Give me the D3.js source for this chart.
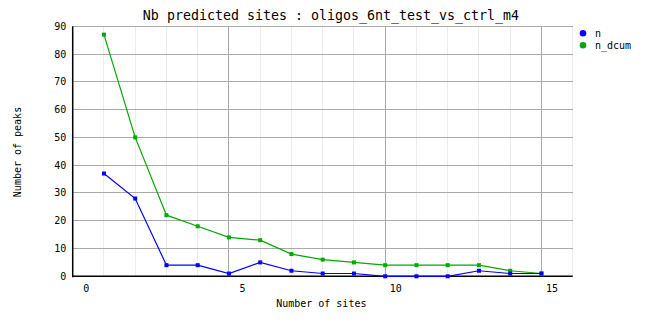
<!DOCTYPE html>
<html>
<head>
<meta charset="utf-8">
<script src="https://cdn.jsdelivr.net/npm/d3@7"></script>
<style>
  body { margin: 0; background: #fff; }
  text { font-family: "DejaVu Sans Mono", monospace; fill: #000; }
</style>
</head>
<body>
<div id="chart"></div>
<script>
// data
var sites = [1, 2, 3, 4, 5, 6, 7, 8, 9, 10, 11, 12, 13, 14, 15];
var nValues = [37, 28, 4, 4, 1, 5, 2, 1, 1, 0, 0, 0, 2, 1, 1];
var nDcumValues = [87, 50, 22, 18, 14, 13, 8, 6, 5, 4, 4, 4, 4, 2, 1];
var xTickLabels = [0, 5, 10, 15];
var yTickLabels = [0, 10, 20, 30, 40, 50, 60, 70, 80, 90];
var seriesNames = ["n", "n_dcum"];

var W = 662, H = 328;
var margin = {top: 26.3, right: 89.3, bottom: 51.7, left: 72.7},
    width = W - margin.left - margin.right,
    height = H - margin.top - margin.bottom;

var colors = {n: "#0000ff", n_dcum: "#00aa00"};

var svg = d3.select("#chart")
  .append("svg")
    .attr("width", W)
    .attr("height", H);

var g = svg.append("g")
    .attr("transform", "translate(" + margin.left + "," + margin.top + ")");

var x = d3.scaleLinear().domain([0, 16]).range([0, width]);
var y = d3.scaleLinear().domain([0, 90]).range([height, 0]);

// minor vertical grid
g.selectAll(".minor")
  .data(d3.range(1, 17).filter(function(d) { return d % 5 != 0; }))
  .enter().append("line")
    .attr("x1", function(d) { return x(d); })
    .attr("x2", function(d) { return x(d); })
    .attr("y1", 0).attr("y2", height)
    .attr("stroke", "#ececec")
    .attr("shape-rendering", "crispEdges");

// major vertical grid
g.selectAll(".major")
  .data([5, 10, 15])
  .enter().append("line")
    .attr("x1", function(d) { return x(d); })
    .attr("x2", function(d) { return x(d); })
    .attr("y1", 0).attr("y2", height)
    .attr("stroke", "#aaaaaa")
    .attr("shape-rendering", "crispEdges");

// horizontal grid
g.selectAll(".hgrid")
  .data(yTickLabels.slice(1))
  .enter().append("line")
    .attr("x1", 0).attr("x2", width)
    .attr("y1", function(d) { return y(d); })
    .attr("y2", function(d) { return y(d); })
    .attr("stroke", "#aaaaaa")
    .attr("shape-rendering", "crispEdges");

// Y axis labels
g.selectAll(".ylab")
  .data(yTickLabels)
  .enter().append("text")
    .attr("x", -6.5)
    .attr("y", function(d) { return y(d); })
    .attr("dy", "0.35em")
    .attr("text-anchor", "end")
    .style("font-size", "10px")
    .text(function(d) { return d; });

// X axis labels (right aligned just past the tick)
g.selectAll(".xlab")
  .data(xTickLabels)
  .enter().append("text")
    .attr("x", function(d) { return x(d) + 16.5; })
    .attr("y", height + 12)
    .attr("dy", "0.35em")
    .attr("text-anchor", "end")
    .style("font-size", "10px")
    .text(function(d) { return d; });

// axes lines
g.append("line")
  .attr("x1", 0).attr("x2", 0).attr("y1", 0).attr("y2", height + 1)
  .attr("stroke", "#000").attr("stroke-width", 1.5);
g.append("line")
  .attr("x1", 0).attr("x2", width).attr("y1", height).attr("y2", height)
  .attr("stroke", "#000").attr("stroke-width", 1.5);

// series
var series = [
  {name: "n", values: nValues},
  {name: "n_dcum", values: nDcumValues}
];

var line = d3.line()
  .x(function(d) { return x(d.site); })
  .y(function(d) { return y(d.value); });

series.slice().reverse().forEach(function(s) {
  var pts = sites.map(function(k, i) { return {site: k, value: s.values[i]}; });
  g.append("path")
    .datum(pts)
    .attr("fill", "none")
    .attr("stroke", colors[s.name])
    .attr("stroke-width", 1.2)
    .attr("d", line);
  g.selectAll(".pt-" + s.name)
    .data(pts)
    .enter().append("rect")
      .attr("x", function(d) { return x(d.site) - 2; })
      .attr("y", function(d) { return y(d.value) - 2; })
      .attr("width", 4).attr("height", 4)
      .attr("fill", colors[s.name]);
});

// title
svg.append("text")
  .attr("x", 331)
  .attr("y", 19.5)
  .attr("text-anchor", "middle")
  .style("font-size", "13.3px")
  .text("Nb predicted sites : oligos_6nt_test_vs_ctrl_m4");

// axis titles
svg.append("text")
  .attr("x", 321.3)
  .attr("y", 303.3)
  .attr("dy", "0.35em")
  .attr("text-anchor", "middle")
  .style("font-size", "10px")
  .text("Number of sites");

svg.append("text")
  .attr("transform", "translate(17.5,152) rotate(-90)")
  .attr("dy", "0.35em")
  .attr("text-anchor", "middle")
  .style("font-size", "10px")
  .text("Number of peaks");

// legend
var legend = svg.selectAll(".legend")
  .data(seriesNames)
  .enter().append("g")
    .attr("transform", function(d, i) { return "translate(583," + (33.3 + i * 12) + ")"; });
legend.append("circle")
  .attr("r", 3.3)
  .attr("fill", function(d) { return colors[d]; });
legend.append("text")
  .attr("x", 12)
  .attr("dy", "0.35em")
  .style("font-size", "10px")
  .text(function(d) { return d; });
</script>
</body>
</html>
